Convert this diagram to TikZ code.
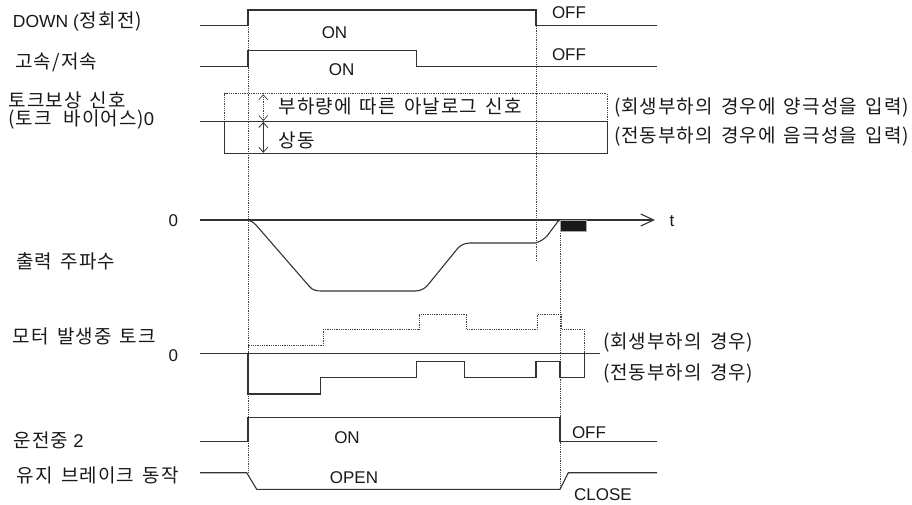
\documentclass[tikz,border=0pt]{standalone}
\usepackage{fontspec}
\setmainfont{Liberation Sans}
\newfontfamily\kr[LetterSpace=6,WordSpace=1.5]{Noto Sans CJK KR}
\newcommand{\ko}{\fontsize{19}{22}\kr}
\newcommand{\la}{\fontsize{17}{20}\selectfont}
\newcommand{\lb}{\fontsize{18.5}{22}\selectfont}
\newcommand{\lp}{(\kern0.5pt}
\newcommand{\rp}{\kern0.5pt)}
\usetikzlibrary{arrows.meta}
\begin{document}
\begin{tikzpicture}[x=1pt,y=-1pt,
  sig/.style={line width=1.1pt,draw=black!80},
  dotl/.style={line width=0.7pt,draw=black!75,dash pattern=on 0.9pt off 0.9pt},
  lbl/.style={inner sep=0pt,text=black!90,font=\la},
  barb/.style={{Straight Barb[length=5pt,width=9pt]}-{Straight Barb[length=5pt,width=9pt]}}]
\useasboundingbox (0,0) rectangle (912,505);

% left labels
\node[lbl,anchor=west] (lDown) at (12.7,22) {{\fontsize{17.5}{21}\selectfont DOWN (}{\ko\kern1pt 정회전\rp}};
\node[lbl,anchor=west] (lSpd) at (15,62.5) {\ko 고속/저속};
\node[lbl,anchor=west] (lTb1) at (8.3,100) {\ko 토크보상 신호};
\node[lbl,anchor=west] (lTb2) at (8.3,119.5) {{\ko \lp 토크\hspace{4pt} 바이어스\rp}{\lb 0}};
\node[lbl,anchor=west] (lFreq) at (16,261) {\ko 출력 주파수};
\node[lbl] (z1) at (173.3,221) {0};
\node[lbl,anchor=west] (lTq) at (12.7,336.7) {\ko 모터 발생중 토크};
\node[lbl] (z2) at (173.3,356) {0};
\node[lbl,anchor=west] (lRun) at (13.3,440) {{\ko 운전중}{\lb{} 2}};
\node[lbl,anchor=west] (lBrk) at (16.7,475) {\ko 유지 브레이크 동작};

% dotted time markers
\draw[dotl] (248,27) -- (248,472);
\draw[dotl] (536,26) -- (536,261);
\draw[dotl] (560,222) -- (560,489);

% DOWN
\draw[sig] (200,25.5) -- (248,25.5) -- (248,10) -- (536,10) -- (536,25.5) -- (657,25.5);
\node[lbl] (on1) at (334.5,32.3) {ON};
\node[lbl] (off1) at (569,12.5) {OFF};

% high/low speed
\draw[sig] (200,66.5) -- (248,66.5) -- (248,50.3) -- (416.5,50.3) -- (416.5,66.5) -- (657,66.5);
\node[lbl] (on2) at (341.7,69.5) {ON};
\node[lbl] (off2) at (569,55) {OFF};

% torque bias
\draw[dotl] (224.5,121.5) -- (224.5,93.8) -- (607,93.8) -- (607,121.5);
\draw[sig] (200,121.5) -- (607.5,121.5);
\draw[sig] (224.5,121.5) -- (224.5,153.3) -- (607.5,153.3) -- (607.5,121.5);
\draw[dotl,barb] (263.3,94.3) -- (263.3,121);
\draw[line width=0.8pt,draw=black!80,barb] (263.3,122) -- (263.3,152.8);
\node[lbl,anchor=west] (anl) at (278.3,106.5) {\ko 부하량에 따른 아날로그 신호};
\node[lbl,anchor=west] (same) at (278.3,140) {\ko 상동};
\node[lbl,anchor=west] (regen1) at (614,107.5) {\ko \lp 회생부하의 경우에 양극성을 입력\rp};
\node[lbl,anchor=west] (motor1) at (614,136.5) {\ko \lp 전동부하의 경우에 음극성을 입력\rp};

% output frequency
\draw[sig,-{Straight Barb[length=13pt,width=12pt]}] (200,220) -- (655,220);
\node[lbl] (tl) at (672,221) {t};
\draw[sig] (248,220) .. controls (251,221) and (253,222) .. (256,225) -- (309,286)
  .. controls (312,290) and (316,291) .. (321,291) -- (415,291)
  .. controls (420,291) and (424,289) .. (427,286) -- (458,248)
  .. controls (461,245) and (465,243) .. (470,243) -- (535,243)
  .. controls (540,242) and (544,239) .. (547,236) -- (556,224)
  .. controls (557,222) and (558,221) .. (560,220);
\filldraw[fill=black!90,draw=black!35,line width=0.7pt] (560,220.5) rectangle (586.5,231);

% motor torque
\draw[dotl] (248,353.3) -- (248,345.7) -- (323.3,345.7) -- (323.3,329.3) -- (419,329.3) -- (419,314) -- (466.7,314) -- (466.7,329.3) -- (537.7,329.3) -- (537.7,314) -- (561.7,314) -- (561.7,329.3) -- (584.3,329.3) -- (584.3,353.3);
\draw[sig] (200,353.3) -- (600,353.3);
\draw[sig] (248,353.3) -- (248,394) -- (320.7,394) -- (320.7,377.7) -- (416.7,377.7) -- (416.7,361.7) -- (464.3,361.7) -- (464.3,377.7) -- (536,377.7) -- (536,361.7) -- (560,361.7) -- (560,377.7) -- (584.3,377.7) -- (584.3,353.3);
\node[lbl,anchor=west] (regen2) at (603,343) {\ko \lp 회생부하의 경우\rp};
\node[lbl,anchor=west] (motor2) at (603,374) {\ko \lp 전동부하의 경우\rp};

% running 2
\draw[sig] (200,441.7) -- (248,441.7) -- (248,417.3) -- (560,417.3) -- (560,441.7) -- (657,441.7);
\node[lbl] (on3) at (347,437.5) {ON};
\node[lbl] (off3) at (589,432.7) {OFF};

% holding brake
\draw[sig] (200,472.7) -- (246.7,472.7) -- (256.7,489.3) -- (560,489.3) -- (568.3,472.7) -- (657,472.7);
\node[lbl] (open) at (354,478) {OPEN};
\node[lbl] (close) at (603,495) {CLOSE};
\end{tikzpicture}
\end{document}
